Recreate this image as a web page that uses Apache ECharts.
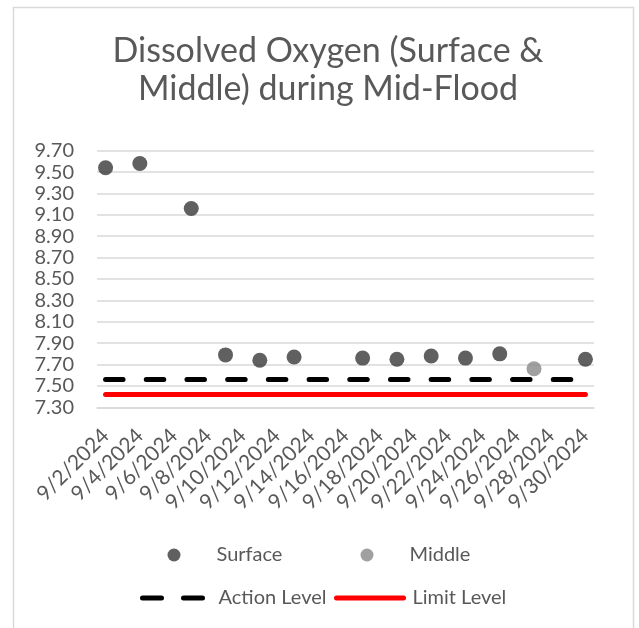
<!DOCTYPE html>
<html>
<head>
<meta charset="utf-8">
<script src="https://cdn.jsdelivr.net/npm/echarts@6/dist/echarts.min.js"></script>
<style>
html,body{margin:0;padding:0;background:#fff;}
#chart{width:639px;height:628px;}
</style>
</head>
<body>
<div id="chart"></div>
<script>
// ---- Data ----
var categories = ['9/2/2024','9/3/2024','9/4/2024','9/5/2024','9/6/2024','9/7/2024','9/8/2024','9/9/2024','9/10/2024','9/11/2024','9/12/2024','9/13/2024','9/14/2024','9/15/2024','9/16/2024','9/17/2024','9/18/2024','9/19/2024','9/20/2024','9/21/2024','9/22/2024','9/23/2024','9/24/2024','9/25/2024','9/26/2024','9/27/2024','9/28/2024','9/29/2024','9/30/2024'];
var surfaceDates = ['9/2/2024','9/4/2024','9/7/2024','9/9/2024','9/11/2024','9/13/2024','9/17/2024','9/19/2024','9/21/2024','9/23/2024','9/25/2024','9/30/2024'];
var surfaceValues = [9.54, 9.58, 9.16, 7.79, 7.74, 7.77, 7.76, 7.75, 7.78, 7.76, 7.80, 7.75];
var middleDates = ['9/27/2024'];
var middleValues = [7.66];
var levelDates = ['9/2/2024','9/30/2024'];
var actionLevel = [7.56, 7.56];
var limitLevel = [7.42, 7.42];
var yMin = 7.30, yMax = 9.70, yStep = 0.20;

function pairs(dates, vals){ return dates.map(function(d,i){ return [d, vals[i]]; }); }

var FONT = 'Lato';
var TXT = '#595959';

var chart = echarts.init(document.getElementById('chart'), null, {renderer:'canvas'});
chart.setOption({
  animation: false,
  backgroundColor: '#ffffff',
  textStyle: {fontFamily: FONT},
  graphic: [{
    type: 'rect', shape: {x: 13.5, y: 7.5, width: 620, height: 650},
    style: {fill: 'none', stroke: '#d9d9d9', lineWidth: 1.5}, silent: true, z: -10
  }],
  title: {
    text: 'Dissolved Oxygen (Surface &\nMiddle) during Mid-Flood',
    left: 323, top: 27, textAlign: 'center',
    textStyle: {fontFamily: FONT, fontSize: 34, fontWeight: 'normal', color: TXT, lineHeight: 38}
  },
  grid: {left: 97, right: 45, top: 150.7, height: 256.6, containLabel: false},
  xAxis: {
    type: 'category', data: categories, boundaryGap: true,
    axisLine: {show: true, lineStyle: {color: '#d9d9d9', width: 1.5}},
    axisTick: {show: false},
    splitLine: {show: false},
    axisLabel: {interval: 1, rotate: 45, margin: 25, color: TXT, fontFamily: FONT, fontSize: 21}
  },
  yAxis: {
    type: 'value', min: yMin, max: yMax, interval: yStep,
    axisLine: {show: false}, axisTick: {show: false},
    splitLine: {lineStyle: {color: '#d9d9d9', width: 1.5}},
    axisLabel: {margin: 23, color: TXT, fontFamily: FONT, fontSize: 20,
      formatter: function(v){ return v.toFixed(2); }}
  },
  legend: [
    {data: ['Surface'], left: 167.5, top: 545, padding: 0, itemWidth: 13, itemHeight: 13, icon: 'circle',
     textStyle: {color: TXT, fontFamily: FONT, fontSize: 20, padding: [0,0,0,31]}},
    {data: ['Middle'], left: 360.5, top: 545, padding: 0, itemWidth: 13, itemHeight: 13, icon: 'circle',
     textStyle: {color: TXT, fontFamily: FONT, fontSize: 20, padding: [0,0,0,31]}},
    {data: ['Action Level'], left: 140, top: 588, padding: 0, itemWidth: 66, itemHeight: 20,
     itemStyle: {opacity: 0},
     lineStyle: {width: 5, cap: 'round', type: [19, 22]},
     textStyle: {color: TXT, fontFamily: FONT, fontSize: 20, padding: [0,0,0,5]}},
    {data: ['Limit Level'], left: 334, top: 588, padding: 0, itemWidth: 67, itemHeight: 20,
     itemStyle: {opacity: 0},
     lineStyle: {width: 5, cap: 'round'},
     textStyle: {color: TXT, fontFamily: FONT, fontSize: 20, padding: [0,0,0,4]}}
  ],
  series: [
    {name: 'Action Level', type: 'line', data: pairs(levelDates, actionLevel), symbol: 'none',
     itemStyle: {color: '#000000'},
     lineStyle: {color: '#000000', width: 5, type: [17.5, 23.2], cap: 'round'}, z: 2},
    {name: 'Limit Level', type: 'line', data: pairs(levelDates, limitLevel), symbol: 'none',
     itemStyle: {color: '#ff0000'},
     lineStyle: {color: '#ff0000', width: 5, type: 'solid', cap: 'round'}, z: 2},
    {name: 'Surface', type: 'scatter', data: pairs(surfaceDates, surfaceValues), symbol: 'circle', symbolSize: 15,
     itemStyle: {color: '#383838'}, z: 3},
    {name: 'Middle', type: 'scatter', data: pairs(middleDates, middleValues), symbol: 'circle', symbolSize: 15,
     itemStyle: {color: '#888888'}, z: 3}
  ]
});
</script>
</body>
</html>
